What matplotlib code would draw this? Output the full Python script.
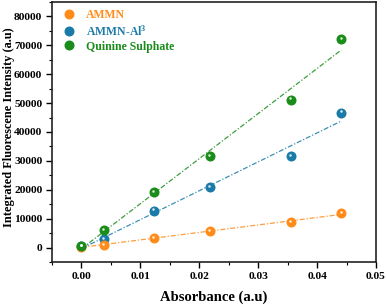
import numpy as np
import matplotlib
matplotlib.use("Agg")
import matplotlib.pyplot as plt
from matplotlib.ticker import MultipleLocator
from matplotlib.lines import Line2D
import matplotlib.transforms as mtransforms

absorbance = [0.0, 0.0038, 0.0123, 0.0218, 0.0355, 0.0441]
ammn = [300, 900, 3240, 5760, 8760, 11860]
ammn_al = [400, 3000, 12760, 21030, 31600, 46700]
quinine = [500, 6100, 19100, 31700, 51200, 72200]
labels = ["AMMN", "AMMN-Al$^{3}$", "Quinine Sulphate"]
colors = ["#FF8C1A", "#1A7BA8", "#1A8C1A"]

plt.rcParams['font.family'] = ['Liberation Serif', 'DejaVu Serif']
plt.rcParams['font.weight'] = 'bold'
plt.rcParams['mathtext.fontset'] = 'custom'
plt.rcParams['mathtext.rm'] = 'Liberation Serif:bold'
plt.rcParams['mathtext.it'] = 'Liberation Serif:bold'

fig = plt.figure(figsize=(3.87, 3.05), dpi=100)
ax = fig.add_axes([52/387, 1 - 262/305, 324/387, 260/305])

x = np.array(absorbance)
for series, c in zip([ammn, ammn_al, quinine], colors):
    y = np.array(series)
    k, b = np.polyfit(x, y, 1)
    xf = np.array([0.0, x.max()])
    ax.plot(xf, k*xf + b, linestyle=(0, (4, 1.5, 1, 1.5)), color=c, lw=0.9, alpha=0.85, zorder=2)

off = mtransforms.ScaledTranslation(-0.3/72, 0.9/72, fig.dpi_scale_trans)
for series, c in zip([ammn_al, ammn, quinine], [colors[1], colors[0], colors[2]]):
    ax.plot(absorbance, series, 'o', color=c, ms=6.2, mec=c, zorder=3)
    ax.plot(absorbance, series, 'o', color='white', ms=1.8, mec='none', alpha=0.85, zorder=4,
            transform=ax.transData + off)

ax.set_xlim(-0.005, 0.05)
ax.set_ylim(-5000, 85000)
ax.xaxis.set_minor_locator(MultipleLocator(0.005))
ax.yaxis.set_minor_locator(MultipleLocator(5000))
ax.set_xticks([0, 0.01, 0.02, 0.03, 0.04, 0.05])
ax.set_xticklabels(["0.00", "0.01", "0.02", "0.03", "0.04", "0.05"])
ax.set_yticks([0, 10000, 20000, 30000, 40000, 50000, 60000, 70000, 80000])
ax.tick_params(which='major', direction='out', length=4, width=1, labelsize=8.2, top=False, right=False, pad=3)
ax.tick_params(which='minor', direction='out', length=2.5, width=0.8, top=False, right=False)
for lab in ax.get_xticklabels() + ax.get_yticklabels():
    lab.set_fontweight('bold')
for s in ax.spines.values():
    s.set_linewidth(1.2)
    s.set_color('#222222')

ax.set_xlabel("Absorbance (a.u)", fontsize=10.5, fontweight='bold')
ax.xaxis.set_label_coords(0.5, -0.108)
ax.set_ylabel("Integrated Fluorescene Intensity (a.u)", fontsize=8.9, fontweight='bold')
ax.yaxis.set_label_coords(-37/324, 0.52)

handles = [Line2D([], [], marker='o', ls='none', color=c, ms=6.2) for c in colors]
leg = ax.legend(handles, labels, loc='upper left', frameon=False, fontsize=8.5,
                handlelength=1.0, handletextpad=0.9, labelspacing=0.2, borderaxespad=0.0,
                borderpad=0.0, bbox_to_anchor=(0.035, 0.972))
for t, c in zip(leg.get_texts(), colors):
    t.set_color(c)
    t.set_fontweight('bold')

fig.savefig("out.png", dpi=100)
